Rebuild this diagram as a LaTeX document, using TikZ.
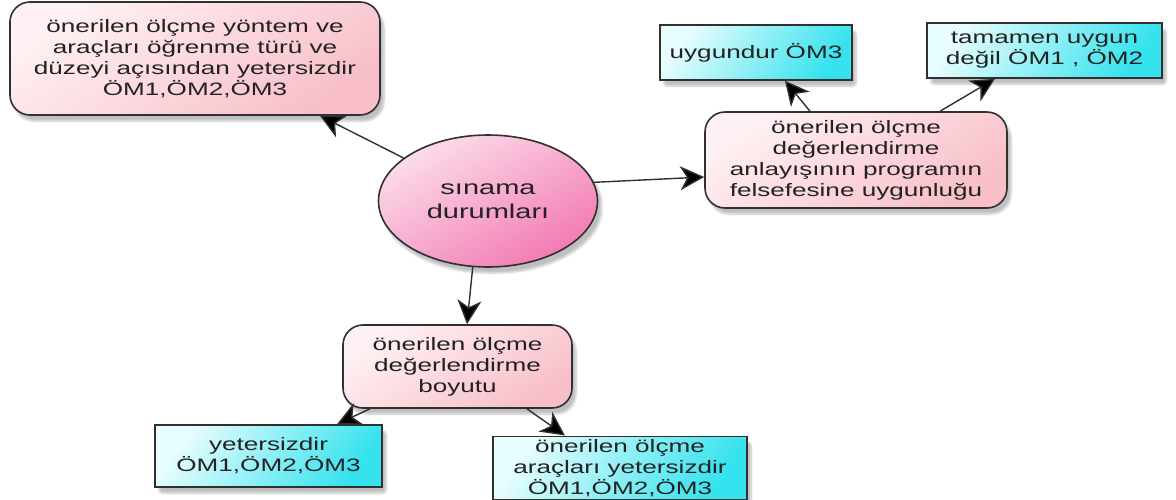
\documentclass[tikz,border=0pt]{standalone}
\usepackage{fontspec}
\setmainfont{Liberation Sans}
\newfontfamily\boxfont[FakeStretch=1.45]{Liberation Sans}
\usetikzlibrary{shapes.geometric,arrows.meta,shadows.blur}

\definecolor{inktext}{HTML}{222222}
\definecolor{inkline}{HTML}{303030}
\definecolor{pinklight}{HTML}{FEF1F3}
\definecolor{pinkdark}{HTML}{F8BFC8}
\definecolor{cyanlight}{HTML}{E8FDFD}
\definecolor{cyandark}{HTML}{36E2EE}
\definecolor{rosylight}{HTML}{FCDDEA}
\definecolor{rosydark}{HTML}{F27AB3}

\tikzset{
  softshadow/.style={blur shadow={shadow xshift=4pt, shadow yshift=-6pt,
      shadow blur steps=6, shadow blur extra rounding=3pt, shadow opacity=25}},
  pinkbox/.style={draw=inkline, line width=1.6pt, rounded corners=20pt,
      top color=pinklight, bottom color=pinkdark, shading angle=35,
      softshadow, align=center, text=inktext, inner sep=4pt,
      font=\boxfont\fontsize{18}{21}\selectfont},
  cyanbox/.style={draw=inkline, line width=1.6pt,
      top color=cyanlight, bottom color=cyandark, shading angle=55,
      softshadow, align=center, text=inktext, inner sep=3pt,
      font=\boxfont\fontsize{18}{21}\selectfont},
  hub/.style={ellipse, draw=inkline, line width=1.6pt,
      top color=rosylight, bottom color=rosydark, shading angle=30,
      softshadow, align=center, text=inktext, inner sep=0pt,
      font=\boxfont\fontsize{20}{24}\selectfont},
  link/.style={draw=inkline, line width=1.4pt,
      -{Stealth[length=24pt,width=24pt,inset=7pt,fill=black]}},
}

\begin{document}
\begin{tikzpicture}[x=1pt,y=-1pt]
\useasboundingbox (0,0) rectangle (1176,499);

% central topic
\node[hub, minimum width=219pt, minimum height=132pt] (S) at (488,201)
  {sınama\\durumları};

% branch boxes
\node[pinkbox, minimum width=370pt, minimum height=113pt] (A) at (195,58.5)
  {önerilen ölçme yöntem ve\\araçları öğrenme türü ve\\düzeyi açısından yetersizdir\\ÖM1,ÖM2,ÖM3};
\node[pinkbox, minimum width=302pt, minimum height=96pt] (B) at (856,160)
  {önerilen ölçme\\değerlendirme\\anlayışının programın\\felsefesine uygunluğu};
\node[pinkbox, minimum width=229pt, minimum height=83pt] (C) at (457.5,366.5)
  {önerilen ölçme\\değerlendirme\\boyutu};

% leaf boxes
\node[cyanbox, minimum width=192pt, minimum height=55pt] (U) at (756,52.5)
  {uygundur ÖM3};
\node[cyanbox, minimum width=235pt, minimum height=55pt] (T) at (1044.5,50.5)
  {tamamen uygun\\değil ÖM1 , ÖM2};
\node[cyanbox, minimum width=227pt, minimum height=62pt] (D) at (268.5,456)
  {yetersizdir\\ÖM1,ÖM2,ÖM3};
\node[cyanbox, minimum width=254pt, minimum height=60pt] (E) at (620,468)
  {önerilen ölçme\\araçları yetersizdir\\ÖM1,ÖM2,ÖM3};

% connectors
\draw[link] (S.153) -- ([xshift=125pt]A.south);
\draw[link] (S.10) -- ([yshift=-17pt]B.west);
\draw[link] (S.257) -- ([xshift=9.5pt]C.north);
\draw[link] ([xshift=-46pt]B.north) -- ([xshift=29pt]U.south);
\draw[link] ([xshift=84pt]B.north) -- ([xshift=-49.5pt]T.south);
\draw[link] ([xshift=-87.5pt]C.south) -- ([xshift=68.5pt]D.north);
\draw[link] ([xshift=69.5pt]C.south) -- ([xshift=-55pt]E.north);
\end{tikzpicture}
\end{document}
